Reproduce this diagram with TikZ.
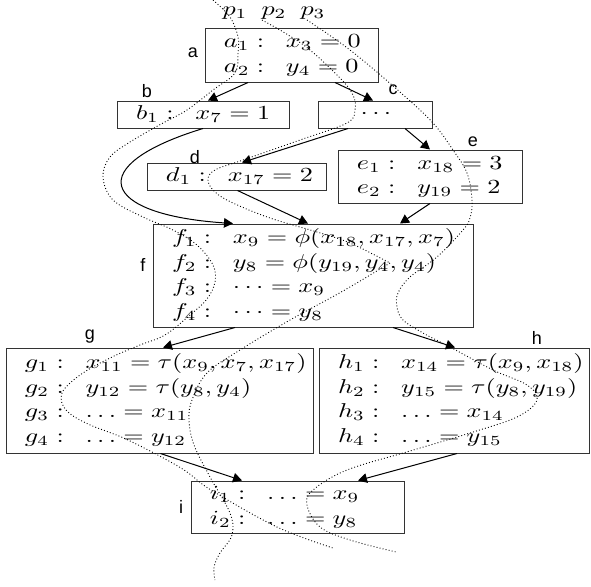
\documentclass[tikz,border=0pt]{standalone}
\usepackage{graphicx}
\usepackage{fontspec}
\newfontfamily\labfont{Liberation Sans}
\usetikzlibrary{arrows.meta}
\newcommand{\sx}{1.31}
\newcommand{\rws}[1]{\scalebox{\sx}[1]{\renewcommand{\arraystretch}{1.03}\begin{tabular}{@{}l@{}}#1\end{tabular}}}
\newcommand{\sepc}{\mathrel{:}\mkern10mu}
\begin{document}
\begin{tikzpicture}[x=0.5pt,y=-0.5pt,
  bx/.style n args={3}{draw=black!80, line width=0.5pt, text width=#1, minimum height=#2, align=#3, inner xsep=9pt, inner ysep=0pt},
  lb/.style={font=\labfont\fontsize{9}{10}\selectfont, inner sep=0pt},
  pl/.style={inner sep=0pt},
  arr/.style={-{Triangle[length=4.5pt,width=4.8pt]}, line width=0.5pt},
  pth/.style={line width=0.45pt, dash pattern=on 0.45pt off 1.1pt}]
\useasboundingbox (0,0) rectangle (591,586);

% boxes
\node[bx={68.5pt}{27pt}{left}] (a) at (292.5,55) {\rws{$a_1\sepc x_3 = 0$\\ $a_2\sepc y_4 = 0$}};
\node[bx={68pt}{13.5pt}{left}] (b) at (204,114.5) {\rws{$b_1\sepc x_7 = 1$}};
\node[bx={39pt}{13.5pt}{center}] (c) at (376,114.5) {\scalebox{\sx}[1]{$\cdots$}};
\node[bx={71.5pt}{13.5pt}{left}] (d) at (237.5,176.5) {\rws{$d_1\sepc x_{17} = 2$}};
\node[bx={74pt}{26.5pt}{left}] (e) at (431,176.5) {\rws{$e_1\sepc x_{18} = 3$\\ $e_2\sepc y_{19} = 2$}};
\node[bx={142pt}{51.5pt}{left}] (f) at (314,275.5) {\rws{$f_1\sepc x_9 = \phi(x_{18}, x_{17}, x_7)$\\ $f_2\sepc y_8 = \phi(y_{19}, y_4, y_4)$\\ $f_3\sepc \cdots = x_9$\\ $f_4\sepc \cdots = y_8$}};
\node[bx={135.5pt}{52.5pt}{left}] (g) at (160.5,400.5) {\rws{$g_1\sepc x_{11} = \tau(x_9, x_7, x_{17})$\\ $g_2\sepc y_{12} = \tau(y_8, y_4)$\\ $g_3\sepc \ldots = x_{11}$\\ $g_4\sepc \ldots = y_{12}$}};
\node[bx={117pt}{52.5pt}{left}] (h) at (455,400.5) {\rws{$h_1\sepc x_{14} = \tau(x_9, x_{18})$\\ $h_2\sepc y_{15} = \tau(y_8, y_{19})$\\ $h_3\sepc \ldots = x_{14}$\\ $h_4\sepc \ldots = y_{15}$}};
\node[bx={88.5pt}{26pt}{left}] (i) at (298.5,507) {\rws{$i_1\sepc \ldots = x_9$\\ $i_2\sepc \ldots = y_8$}};

% block labels
\node[lb] (la) at (193,53) {a};
\node[lb] (lbb) at (147,91) {b};
\node[lb] (lc) at (393,90) {c};
\node[lb] (ld) at (195,157) {d};
\node[lb] (le) at (473,142) {e};
\node[lb] (lf) at (143,265) {f};
\node[lb] (lg) at (90,337) {g};
\node[lb] (lh) at (537,338) {h};
\node[lb] (li) at (181,507) {i};

% path labels
\node[pl] (p1) at (235,13) {\scalebox{\sx}[1]{$p_1$}};
\node[pl] (p2) at (274,13) {\scalebox{\sx}[1]{$p_2$}};
\node[pl] (p3) at (313,13) {\scalebox{\sx}[1]{$p_3$}};

% control flow edges
\draw[arr] ([xshift=-22.25pt]a.south) -- ([xshift=2pt]b.north);
\draw[arr] ([xshift=21.25pt]a.south) -- ([xshift=-1.5pt]c.north);
\draw[arr] ([xshift=-14pt]c.south) -- ([xshift=2.25pt]d.north);
\draw[arr] ([xshift=14.5pt]c.south) -- ([xshift=-0.5pt]e.north);
\draw[arr] ([xshift=-0.5pt]b.south) .. controls +(-121,37) and +(-133,-9) .. ([xshift=-40.5pt]f.north);
\draw[arr] (d.south) -- ([xshift=-3pt]f.north);
\draw[arr] ([xshift=-0.5pt]e.south) -- ([xshift=43pt]f.north);
\draw[arr] ([xshift=-39.5pt]f.south) -- ([xshift=1.25pt]g.north);
\draw[arr] ([xshift=39.5pt]f.south) -- (h.north);
\draw[arr] (g.south) -- ([xshift=-28.25pt]i.north);
\draw[arr] ([xshift=1pt]h.south) -- ([xshift=29.75pt]i.north);

% paths p1, p2, p3
\draw[pth] plot[smooth, tension=0.6] coordinates {(213,0) (230,17) (238,37) (238,53) (235,73) (213,90) (187,110) (163,123) (130,142) (110,157) (103,177) (113,200) (143,217) (173,230) (197,245) (213,265) (215,282) (207,299) (190,315) (165,335) (140,345) (110,358) (80,375) (62,393) (66,410) (88,424) (128,440) (181,468) (211,490) (277,527) (333,548)};
\draw[pth] plot[smooth, tension=0.6] coordinates {(262,20) (285,33) (310,50) (340,78) (353,95) (355,110) (347,123) (300,140) (243,160) (215,170) (208,180) (215,192) (233,203) (270,218) (317,232) (350,243) (390,263)};
\draw[pth] plot[smooth, tension=0.6] coordinates {(390,263) (343,291) (290,320) (240,350) (207,373) (192,400) (189,420) (194,445) (210,477) (230,513) (232,535) (220,553) (214,567) (215,580)};
\draw[pth] plot[smooth, tension=0.6] coordinates {(307,20) (350,50) (400,92) (433,123) (453,150) (467,173) (472,200) (470,218) (463,230) (437,257) (410,277) (398,293) (397,307) (403,320) (423,333) (450,347) (493,370) (527,385) (537,400) (517,417) (470,433) (410,451) (347,470) (313,490) (307,505) (320,527) (350,540) (396,552)};
\end{tikzpicture}
\end{document}
